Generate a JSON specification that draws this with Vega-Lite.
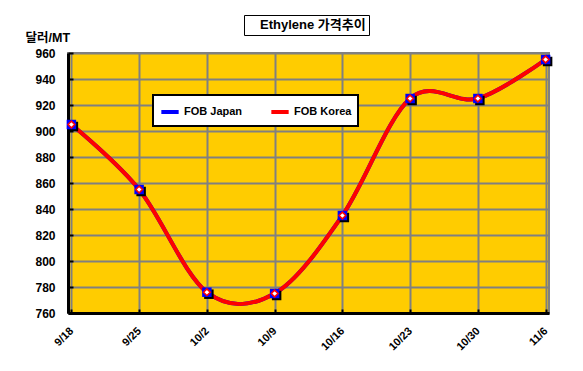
{
  "$schema": "https://vega.github.io/schema/vega-lite/v6.json",
  "width": 481,
  "height": 260,
  "autosize": {"type": "none"},
  "padding": {"left": 68, "top": 53, "right": 34, "bottom": 58},
  "background": "white",
  "config": {
    "font": "Liberation Sans, Noto Sans CJK KR",
    "view": {"fill": "#FFCC00", "stroke": "#808080", "strokeWidth": 2}
  },
  "data": {
    "values": [
      {"date": "9/18", "series": "FOB Japan", "price": 905},
      {"date": "9/25", "series": "FOB Japan", "price": 855},
      {"date": "10/2", "series": "FOB Japan", "price": 776},
      {"date": "10/9", "series": "FOB Japan", "price": 775},
      {"date": "10/16", "series": "FOB Japan", "price": 835},
      {"date": "10/23", "series": "FOB Japan", "price": 925},
      {"date": "10/30", "series": "FOB Japan", "price": 925},
      {"date": "11/6", "series": "FOB Japan", "price": 955},
      {"date": "9/18", "series": "FOB Korea", "price": 905},
      {"date": "9/25", "series": "FOB Korea", "price": 855},
      {"date": "10/2", "series": "FOB Korea", "price": 776},
      {"date": "10/9", "series": "FOB Korea", "price": 775},
      {"date": "10/16", "series": "FOB Korea", "price": 835},
      {"date": "10/23", "series": "FOB Korea", "price": 925},
      {"date": "10/30", "series": "FOB Korea", "price": 925},
      {"date": "11/6", "series": "FOB Korea", "price": 955}
    ]
  },
  "encoding": {
    "x": {
      "field": "date",
      "type": "ordinal",
      "sort": null,
      "scale": {"type": "point", "padding": 0.05},
      "axis": {
        "title": null,
        "labelAngle": -45,
        "labelAlign": "right",
        "labelBaseline": "middle",
        "labelFontSize": 11,
        "labelFontWeight": "bold",
        "labelColor": "black",
        "labelPadding": 20,
        "domainColor": "black",
        "domainWidth": 3,
        "tickColor": "black",
        "tickSize": -4,
        "tickWidth": 2,
        "grid": true,
        "gridColor": "#808080",
        "gridWidth": 2
      }
    },
    "y": {
      "field": "price",
      "type": "quantitative",
      "scale": {"domain": [760, 960], "nice": false, "zero": false},
      "axis": {
        "values": [760, 780, 800, 820, 840, 860, 880, 900, 920, 940, 960],
        "title": "달러/MT",
        "titleAngle": 0,
        "titleAlign": "left",
        "titleBaseline": "middle",
        "titleX": -43,
        "titleY": -16,
        "titleFontSize": 12.5,
        "titleFontWeight": "bold",
        "titleColor": "black",
        "labelFontSize": 12,
        "labelFontWeight": "bold",
        "labelColor": "black",
        "labelPadding": 18,
        "domainColor": "black",
        "domainWidth": 3,
        "tickColor": "black",
        "tickSize": -5,
        "tickWidth": 2,
        "grid": true,
        "gridColor": "#808080",
        "gridWidth": 2
      }
    }
  },
  "layer": [
    {
      "mark": {"type": "line", "interpolate": "cardinal", "tension": 0, "strokeWidth": 4},
      "encoding": {
        "stroke": {
          "field": "series",
          "type": "nominal",
          "scale": {"domain": ["FOB Japan", "FOB Korea"], "range": ["#0000FF", "#FF0000"]},
          "legend": {
            "title": null,
            "orient": "none",
            "legendX": 85,
            "legendY": 42,
            "direction": "horizontal",
            "fillColor": "white",
            "strokeColor": "black",
            "padding": 6,
            "symbolType": "stroke",
            "symbolStrokeWidth": 4,
            "symbolSize": 300,
            "labelFontSize": 11,
            "labelFontWeight": "bold",
            "labelColor": "black",
            "labelOffset": 3,
            "columnPadding": 20,
            "encode": {"legend": {"update": {"strokeWidth": {"value": 2}}}}
          }
        }
      }
    },
    {
      "transform": [{"filter": "datum.series == 'FOB Japan'"}],
      "mark": {"type": "point", "shape": "square", "filled": true, "fill": "black", "size": 90, "opacity": 1, "xOffset": 2, "yOffset": 2}
    },
    {
      "transform": [{"filter": "datum.series == 'FOB Japan'"}],
      "mark": {"type": "point", "shape": "square", "filled": true, "fill": "#0000FF", "size": 90, "opacity": 1}
    },
    {
      "transform": [{"filter": "datum.series == 'FOB Korea'"}],
      "mark": {"type": "point", "shape": "diamond", "filled": true, "fill": "white", "stroke": "#FF0000", "strokeWidth": 1.5, "size": 45, "opacity": 1}
    },
    {
      "transform": [{"filter": "datum.series == 'FOB Korea'"}],
      "mark": {"type": "point", "opacity": 0},
      "encoding": {
        "shape": {
          "datum": "Ethylene 가격추이",
          "legend": {
            "title": null,
            "orient": "none",
            "legendX": 176,
            "legendY": -38,
            "fillColor": "white",
            "strokeColor": "black",
            "padding": 3,
            "symbolSize": 0,
            "symbolOpacity": 0,
            "symbolStrokeWidth": 0,
            "labelOffset": 0,
            "labelFontSize": 13,
            "labelFontWeight": "bold",
            "labelColor": "black",
            "encode": {"legend": {"update": {"strokeWidth": {"value": 2}}}}
          }
        }
      }
    }
  ]
}
